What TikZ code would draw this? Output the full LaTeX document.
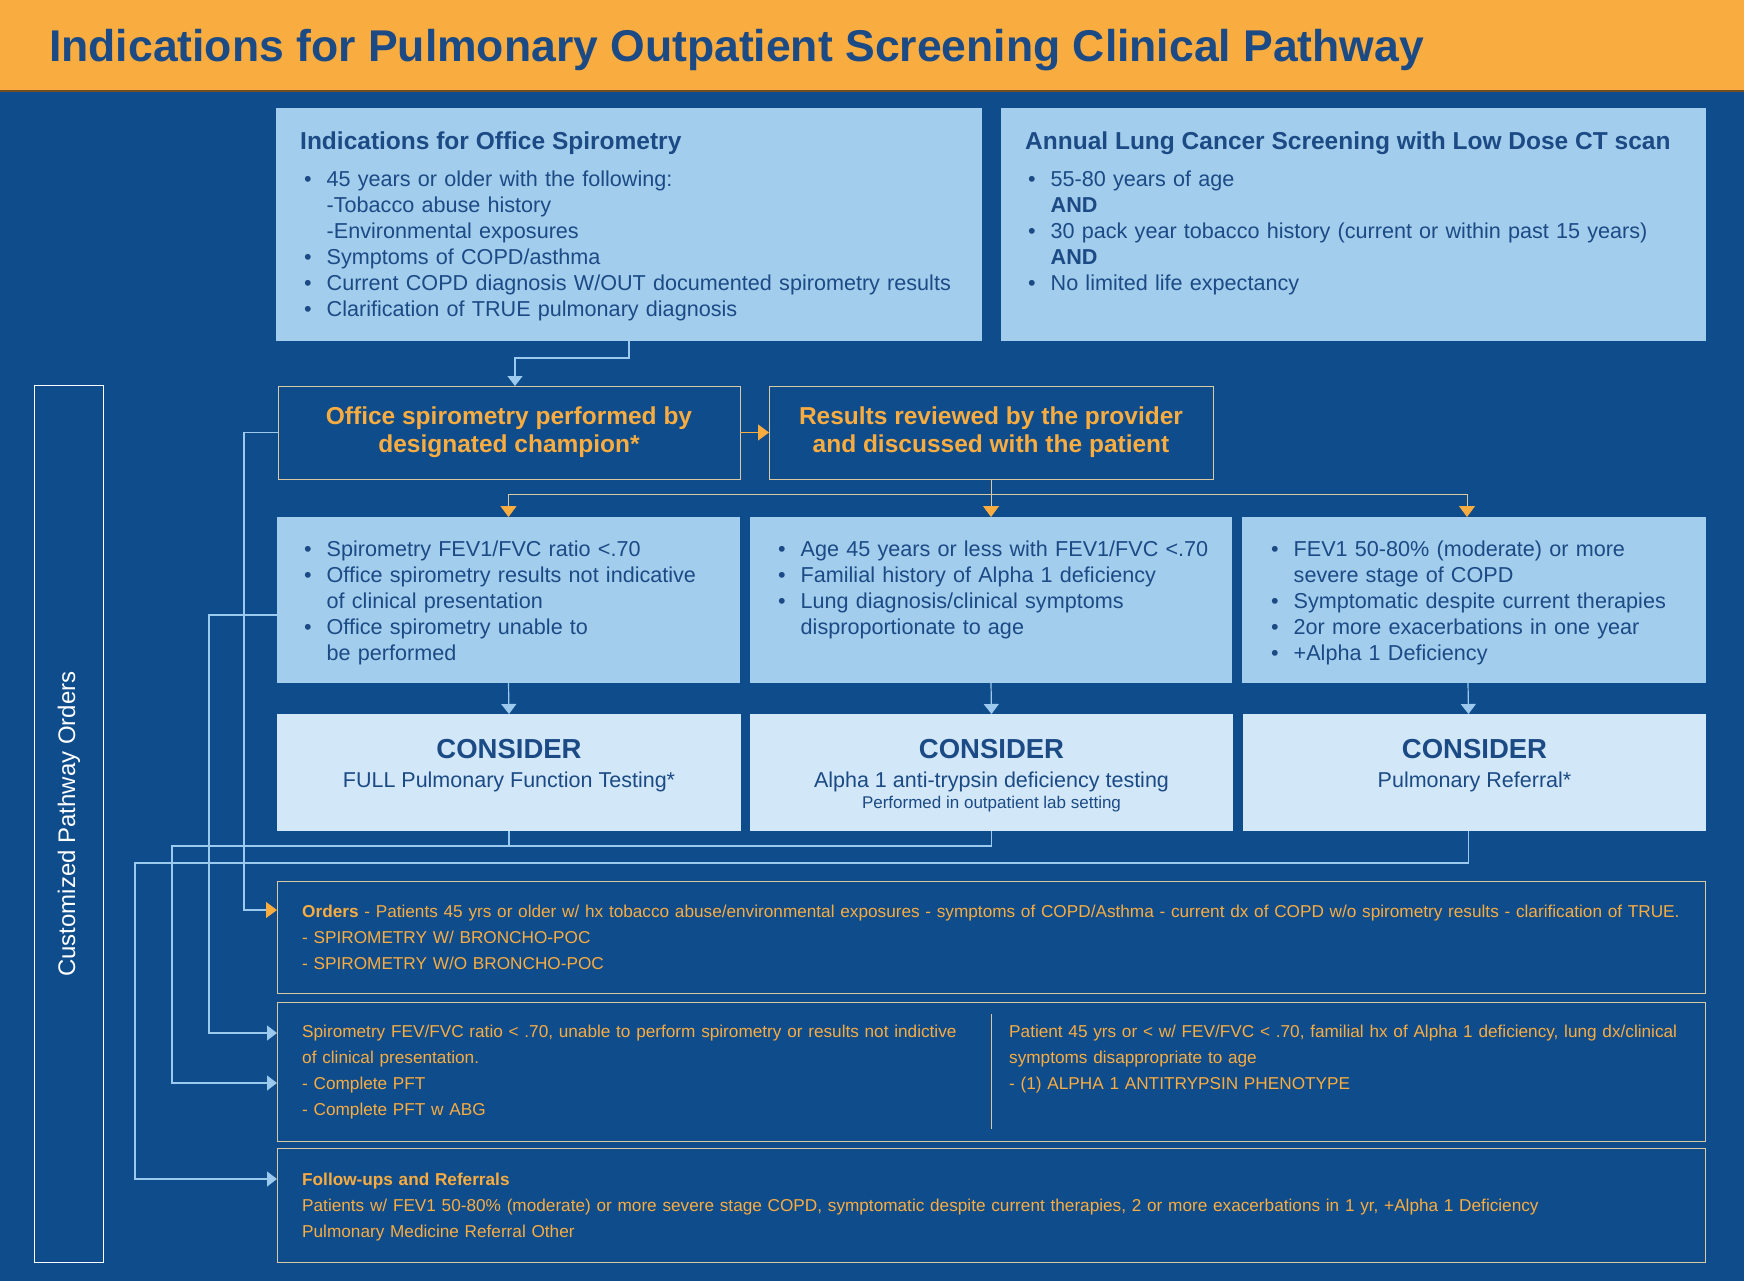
\documentclass[tikz,border=0pt]{standalone}
\usepackage{fontspec}
\setmainfont{Liberation Sans}
\usepackage{xcolor}
\usetikzlibrary{calc,arrows.meta}
\definecolor{bgblue}{HTML}{0E4C8B}
\definecolor{barorange}{HTML}{F9AC40}
\definecolor{boxlight}{HTML}{A2CDEC}
\definecolor{boxpale}{HTML}{D2E7F7}
\definecolor{navy}{HTML}{1B4A85}
\definecolor{wireblue}{HTML}{9CC9EE}
\definecolor{rimtan}{HTML}{D9C8A2}
\newcommand{\bitem}[1]{\makebox[22.5pt][l]{\textbullet}#1}
\newcommand{\bcont}[1]{\hspace*{22.5pt}#1}

\begin{document}
\begin{tikzpicture}[x=1pt,y=-1pt,
	lightbox/.style={fill=boxlight,anchor=north west,inner sep=0pt,outer sep=0pt},
	palebox/.style={fill=boxpale,anchor=north west,inner sep=0pt,outer sep=0pt},
	darkbox/.style={draw=rimtan,line width=0.9pt,anchor=north west,inner sep=0pt,outer sep=0pt},
	headtxt/.style={anchor=base west,inner sep=0pt,text=navy,font=\fontsize{24.5}{30}\selectfont\bfseries},
	listtxt/.style={anchor=base west,inner sep=0pt,text=navy,align=left,text width=#1,font=\fontsize{21.6}{26}\selectfont},
	ordtxt/.style={anchor=base west,inner sep=0pt,text=barorange,align=left,text width=#1,font=\fontsize{17.2}{26}\selectfont},
	steptxt/.style={text=barorange,align=center,font=\fontsize{24.5}{28}\selectfont\bfseries},
	conshead/.style={anchor=base,inner sep=0pt,text=navy,font=\fontsize{27.5}{30}\selectfont\bfseries},
	conssub/.style={anchor=base,inner sep=0pt,text=navy,font=\fontsize{21.5}{26}\selectfont},
	wire/.style={draw=wireblue,line width=1.2pt},
	rim/.style={draw=rimtan,line width=0.9pt},
	wiretip/.style={-{Triangle[width=15pt,length=10pt,color=wireblue]}},
	ortip/.style={-{Triangle[width=16pt,length=11pt,color=barorange]}}]
	\useasboundingbox (0,0) rectangle (1744,1281);
	\fill[bgblue] (0,0) rectangle (1744,1281);
	\fill[barorange] (0,0) rectangle (1744,90);
	\fill[black!55!barorange] (0,90) rectangle (1744,92);
	\node[anchor=base west,inner sep=0pt,text=navy,font=\fontsize{44.5}{50}\selectfont\bfseries] (title) at (49,62) {Indications for Pulmonary Outpatient Screening Clinical Pathway};

	\node[lightbox,minimum width=706pt,minimum height=233pt] (spiroind) at (276,108) {};
	\node[headtxt] (spiroindhead) at ([xshift=24pt,yshift=-42pt]spiroind.north west) {Indications for Office Spirometry};
	\node[listtxt=680pt] (spiroindlist) at ([xshift=28pt,yshift=-79pt]spiroind.north west) {\bitem{45 years or older with the following:}\\
		\bcont{-Tobacco abuse history}\\
		\bcont{-Environmental exposures}\\
		\bitem{Symptoms of COPD/asthma}\\
		\bitem{Current COPD diagnosis W/OUT documented spirometry results}\\
		\bitem{Clarification of TRUE pulmonary diagnosis}};

	\node[lightbox,minimum width=705pt,minimum height=233pt] (lcscreen) at (1001,108) {};
	\node[headtxt] (lcscreenhead) at ([xshift=24pt,yshift=-42pt]lcscreen.north west) {Annual Lung Cancer Screening with Low Dose CT scan};
	\node[listtxt=680pt] (lcscreenlist) at ([xshift=27pt,yshift=-79pt]lcscreen.north west) {\bitem{55-80 years of age}\\
		\bcont{\textbf{AND}}\\
		\bitem{30 pack year tobacco history (current or within past 15 years)}\\
		\bcont{\textbf{AND}}\\
		\bitem{No limited life expectancy}};

	\node[darkbox,steptxt,minimum width=462pt,minimum height=93pt] (spiro) at (278,386) {Office spirometry performed by\\designated champion*};
	\node[darkbox,steptxt,minimum width=444pt,minimum height=93pt] (results) at (769,386) {Results reviewed by the provider\\and discussed with the patient};

	\node[lightbox,minimum width=463pt,minimum height=166pt] (crit1) at (277,517) {};
	\node[listtxt=450pt] (crit1list) at ([xshift=27pt,yshift=-39pt]crit1.north west) {\bitem{Spirometry FEV1/FVC ratio <.70}\\
		\bitem{Office spirometry results not indicative}\\
		\bcont{of clinical presentation}\\
		\bitem{Office spirometry unable to}\\
		\bcont{be performed}};
	\node[lightbox,minimum width=482pt,minimum height=166pt] (crit2) at (750,517) {};
	\node[listtxt=470pt] (crit2list) at ([xshift=28pt,yshift=-39pt]crit2.north west) {\bitem{Age 45 years or less with FEV1/FVC <.70}\\
		\bitem{Familial history of Alpha 1 deficiency}\\
		\bitem{Lung diagnosis/clinical symptoms}\\
		\bcont{disproportionate to age}};
	\node[lightbox,minimum width=464pt,minimum height=166pt] (crit3) at (1242,517) {};
	\node[listtxt=450pt] (crit3list) at ([xshift=29pt,yshift=-39pt]crit3.north west) {\bitem{FEV1 50-80\% (moderate) or more}\\
		\bcont{severe stage of COPD}\\
		\bitem{Symptomatic despite current therapies}\\
		\bitem{2or more exacerbations in one year}\\
		\bitem{+Alpha 1 Deficiency}};

	\node[palebox,minimum width=464pt,minimum height=117pt] (pft) at (277,714) {};
	\node[conshead] (pfthead) at ([yshift=-44pt]pft.north) {CONSIDER};
	\node[conssub] (pftsub) at ([yshift=-73pt]pft.north) {FULL Pulmonary Function Testing*};
	\node[palebox,minimum width=483pt,minimum height=117pt] (alpha) at (750,714) {};
	\node[conshead] (alphahead) at ([yshift=-44pt]alpha.north) {CONSIDER};
	\node[conssub] (alphasub) at ([yshift=-73pt]alpha.north) {Alpha 1 anti-trypsin deficiency testing};
	\node[conssub,font=\fontsize{17}{20}\selectfont] (alphanote) at ([yshift=-94pt]alpha.north) {Performed in outpatient lab setting};
	\node[palebox,minimum width=463pt,minimum height=117pt] (referral) at (1243,714) {};
	\node[conshead] (referralhead) at ([yshift=-44pt]referral.north) {CONSIDER};
	\node[conssub] (referralsub) at ([yshift=-73pt]referral.north) {Pulmonary Referral*};

	\node[darkbox,minimum width=1428pt,minimum height=112pt] (orders) at (277,881) {};
	\node[ordtxt=1420pt] (orderstxt) at ([xshift=25pt,yshift=-36pt]orders.north west) {\textbf{Orders} - Patients 45 yrs or older w/ hx tobacco abuse/environmental exposures - symptoms of COPD/Asthma - current dx of COPD w/o spirometry results - clarification of TRUE.\\
		- SPIROMETRY W/ BRONCHO-POC\\
		- SPIROMETRY W/O BRONCHO-POC};
	\node[darkbox,minimum width=1428pt,minimum height=139pt] (pftord) at (277,1002) {};
	\node[ordtxt=690pt] (pftordleft) at ([xshift=25pt,yshift=-35pt]pftord.north west) {Spirometry FEV/FVC ratio < .70, unable to perform spirometry or results not indictive\\
		of clinical presentation.\\
		- Complete PFT\\
		- Complete PFT w ABG};
	\node[ordtxt=700pt] (pftordright) at ([xshift=18pt,yshift=-35pt]pftord.north) {Patient 45 yrs or < w/ FEV/FVC < .70, familial hx of Alpha 1 deficiency, lung dx/clinical\\
		symptoms disappropriate to age\\
		- (1) ALPHA 1 ANTITRYPSIN PHENOTYPE};
	\draw[rim] ([yshift=-12pt]pftord.north) -- ([yshift=12pt]pftord.south);
	\node[darkbox,minimum width=1428pt,minimum height=114pt] (fups) at (277,1148) {};
	\node[ordtxt=1420pt] (fupstxt) at ([xshift=25pt,yshift=-37pt]fups.north west) {\textbf{Follow-ups and Referrals}\\
		Patients w/ FEV1 50-80\% (moderate) or more severe stage COPD, symptomatic despite current therapies, 2 or more exacerbations in 1 yr, +Alpha 1 Deficiency\\
		Pulmonary Medicine Referral Other};

	\node[draw=white,line width=1pt,anchor=north west,inner sep=0pt,minimum width=69pt,minimum height=877pt] (custom) at (34,385) {};
	\node[rotate=90,text=white,font=\fontsize{24}{28}\selectfont] (customtxt) at (custom.center) {Customized Pathway Orders};

	\draw[wire,wiretip] (spiroind.south) -- ++(0,17) -| ([xshift=6pt]spiro.north);
	\draw[draw=barorange,line width=1.3pt,ortip] (spiro.east) -- (results.west);
	\coordinate (fork) at ($(results.south)+(0,15)$);
	\draw[rim] (results.south) -- (fork);
	\draw[rim,ortip] (fork) -| (crit1.north);
	\draw[rim,ortip] (fork) -- (crit2.north);
	\draw[rim,ortip] (fork) -| ([xshift=-7pt]crit3.north);
	\draw[wire,wiretip] (crit1.south) -- (pft.north);
	\draw[wire,wiretip] (crit2.south) -- (alpha.north);
	\draw[wire,wiretip] ([xshift=-6pt]crit3.south) -- ([xshift=-6pt]referral.north);

	\coordinate (ordin) at ([yshift=-29pt]orders.north west);
	\coordinate (pftin) at ([yshift=-31pt]pftord.north west);
	\coordinate (abgin) at ([yshift=-81pt]pftord.north west);
	\coordinate (fupin) at ([yshift=-31pt]fups.north west);
	\coordinate (busa) at (172,846);
	\coordinate (busb) at (135,863);
	\draw[wire,ortip] (spiro.west) -- ++(-34,0) |- (ordin);
	\draw[wire,wiretip] ([yshift=-15pt]crit1.west) -- ++(-68,0) |- (pftin);
	\draw[wire] (pft.south) -- (pft.south |- busa);
	\draw[wire,wiretip] (alpha.south) |- (busa) |- (abgin);
	\draw[wire,wiretip] ([xshift=-6pt]referral.south) |- (busb) |- (fupin);
\end{tikzpicture}
\end{document}
